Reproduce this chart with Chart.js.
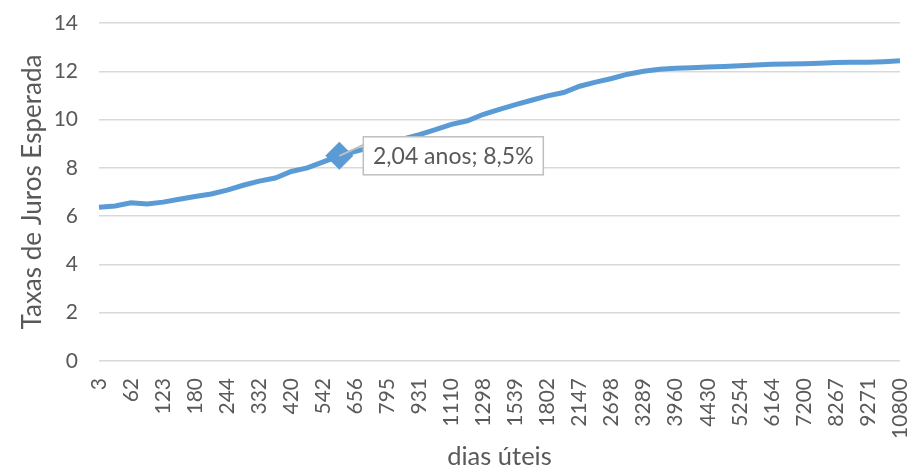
<!DOCTYPE html>
<html>
<head>
<meta charset="utf-8">
<script src="https://cdn.jsdelivr.net/npm/chart.js@4/dist/chart.umd.min.js"></script>
<style>
  html, body { margin: 0; padding: 0; background: #fff; }
  canvas { display: block; }
</style>
</head>
<body>
<canvas id="curvaJuros" width="914" height="470"></canvas>
<script>
// Tick labels shown on the x axis (dias úteis), one every second point
const tickLabels = ["3", "62", "123", "180", "244", "332", "420", "542", "656", "795",
  "931", "1110", "1298", "1539", "1802", "2147", "2698", "3289", "3960", "4430",
  "5254", "6164", "7200", "8267", "9271", "10800"];

// Expected rate curve
const taxas = [6.37, 6.42, 6.55, 6.50, 6.58, 6.70, 6.81, 6.92, 7.08, 7.28,
  7.45, 7.58, 7.85, 8.00, 8.25, 8.50, 8.68, 8.85, 9.02, 9.20,
  9.38, 9.58, 9.80, 9.95, 10.22, 10.42, 10.62, 10.80, 10.98, 11.12,
  11.38, 11.55, 11.70, 11.88, 12.00, 12.08, 12.13, 12.15, 12.18, 12.20,
  12.23, 12.26, 12.29, 12.30, 12.31, 12.33, 12.36, 12.37, 12.37, 12.40,
  12.44];

const yTicks = [0, 2, 4, 6, 8, 10, 12, 14];

// Highlighted point and its label
const destaqueIndex = 15;
const destaqueTexto = "2,04 anos; 8,5%";

const dias = taxas.map((v, i) => (i % 2 === 0 ? tickLabels[i / 2] : ""));
const destaque = taxas.map((v, i) => (i === destaqueIndex ? v : null));

const textGray = "#595959";
const lineBlue = "#5B9BD5";
Chart.defaults.font.family = "Lato";
Chart.defaults.color = textGray;

// Data label box with a leader line, drawn over the series
const calloutPlugin = {
  id: "callout",
  afterDatasetsDraw(chart) {
    const pt = chart.getDatasetMeta(1).data[destaqueIndex];
    if (!pt) return;
    const ctx = chart.ctx;
    const boxX = pt.x + 24;
    const boxW = 180;
    const boxH = 38;
    const boxY = pt.y - boxH / 2;
    ctx.save();
    ctx.strokeStyle = "#BFBFBF";
    ctx.lineWidth = 2;
    ctx.beginPath();
    ctx.moveTo(pt.x, pt.y);
    ctx.lineTo(boxX, pt.y - 11);
    ctx.stroke();
    ctx.fillStyle = "#fff";
    ctx.fillRect(boxX, boxY, boxW, boxH);
    ctx.lineWidth = 1.5;
    ctx.strokeRect(boxX, boxY, boxW, boxH);
    ctx.fillStyle = textGray;
    ctx.font = "23px Lato";
    ctx.textAlign = "center";
    ctx.textBaseline = "middle";
    ctx.fillText(destaqueTexto, boxX + boxW / 2, pt.y + 1);
    ctx.restore();
  },
};

new Chart(document.getElementById("curvaJuros"), {
  type: "line",
  data: {
    labels: dias,
    datasets: [
      {
        data: taxas,
        borderColor: lineBlue,
        borderWidth: 5,
        pointRadius: 0,
        tension: 0,
      },
      {
        data: destaque,
        showLine: false,
        pointStyle: "rectRot",
        pointRadius: 14,
        pointBackgroundColor: lineBlue,
        pointBorderWidth: 0,
      },
    ],
  },
  options: {
    responsive: false,
    animation: false,
    devicePixelRatio: 1,
    layout: { padding: { top: 23, right: 3, left: 0, bottom: 0 } },
    plugins: { legend: { display: false }, tooltip: { enabled: false } },
    scales: {
      x: {
        grid: { display: false },
        border: { display: false },
        ticks: {
          autoSkip: false,
          minRotation: 90,
          maxRotation: 90,
          padding: 9,
          font: { size: 21 },
          callback: (v, i) => dias[i],
        },
        title: {
          display: true,
          text: "dias úteis",
          font: { size: 25.5, lineHeight: 1 },
          padding: 0,
        },
        afterFit: (scale) => {
          scale.height = 109;
          scale.paddingLeft = 0;
          scale.paddingRight = 0;
        },
      },
      y: {
        min: 0,
        max: 14,
        grid: { color: "#D9D9D9", lineWidth: 1.5, drawTicks: false },
        border: { display: false },
        afterBuildTicks: (scale) => { scale.ticks = yTicks.map((v) => ({ value: v })); },
        ticks: { padding: 21, font: { size: 21 } },
        title: {
          display: true,
          text: "Taxas de Juros Esperada",
          font: { size: 26 },
          padding: { top: 17, bottom: 0 },
        },
        afterFit: (scale) => {
          scale.width = 99;
          scale.paddingTop = 0;
          scale.paddingBottom = 0;
        },
      },
    },
  },
  plugins: [calloutPlugin],
});
</script>
</body>
</html>
